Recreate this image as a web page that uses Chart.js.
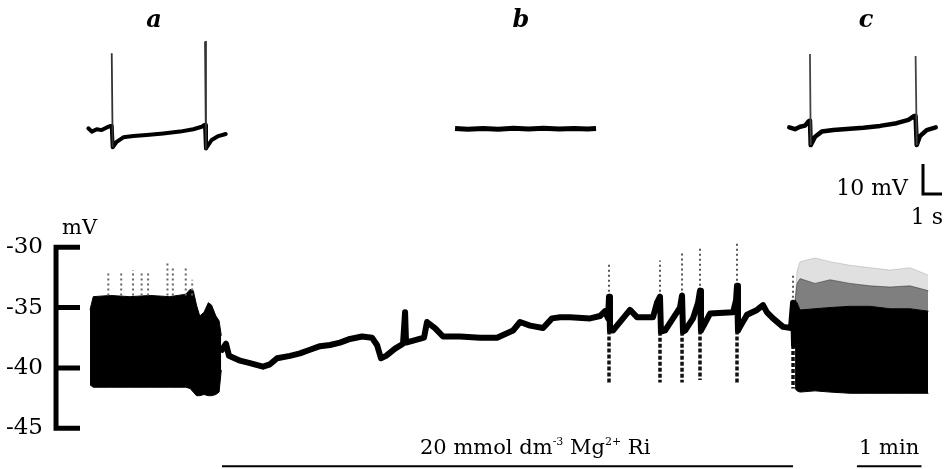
<!DOCTYPE html>
<html>
<head>
<meta charset="utf-8">
<title>Mg2+ Ri recording</title>
<script src="https://cdn.jsdelivr.net/npm/chart.js@4.4.1/dist/chart.umd.min.js"></script>
<style>
  html, body { margin: 0; padding: 0; background: #fff; }
  #fig { position: relative; width: 946px; height: 469px; overflow: hidden; font-family: "DejaVu Serif", serif; color: #000; }
  #fig canvas { position: absolute; }
  .txt { position: absolute; white-space: nowrap; line-height: 1; }
  .trace-label { font-weight: bold; font-style: italic; font-size: 24px; width: 40px; text-align: center; }
  sup { font-size: 11px; vertical-align: 9px; line-height: 0; }
</style>
</head>
<body>
<div id="fig">
  <canvas id="mainChart" width="946" height="469" style="left:0;top:0"></canvas>
  <canvas id="traceA" width="171" height="132" style="left:80px;top:32px"></canvas>
  <canvas id="traceB" width="171" height="132" style="left:445px;top:32px"></canvas>
  <canvas id="traceC" width="171" height="168" style="left:775px;top:32px"></canvas>
  <div class="txt trace-label" style="left:134px;top:7px">a</div>
  <div class="txt trace-label" style="left:501px;top:7px">b</div>
  <div class="txt trace-label" style="left:846px;top:7px">c</div>
  <div class="txt" style="right:38px;top:177px;font-size:22px">10 mV</div>
  <div class="txt" style="right:3px;top:206px;font-size:22px">1 s</div>
  <div class="txt" style="left:62px;top:217px;font-size:21px">mV</div>
  <div class="txt" style="left:420px;top:437px;font-size:21px">20 mmol dm<sup>-3</sup> Mg<sup>2+</sup> Ri</div>
  <div class="txt" style="left:859px;top:437px;font-size:21px">1 min</div>
</div>
<script>
// ---------- main record: time in s, membrane potential in mV ----------
const yTicks = [-45, -40, -35, -30];

// bursting before Mg2+ (envelope of the dense firing)
const burst1T   = [0, 3, 19, 37, 56, 74, 89, 93, 96, 99, 102, 106, 110, 113, 117, 120, 122];
const burst1Top = [-35.2, -34.1, -34.0, -34.1, -34.0, -34.1, -33.9, -33.5, -33.6, -34.8, -35.7, -35.4, -34.6, -34.8, -35.7, -36.1, -37.3];
const burst1Bot = [-41.4, -41.6, -41.6, -41.6, -41.6, -41.6, -41.6, -41.7, -42.0, -42.3, -42.3, -42.2, -42.3, -42.3, -42.2, -42.0, -40.2];
const burst1SpikeT   = [17, 29, 40, 48, 54, 72, 77, 89, 95];
const burst1SpikeTop = [-32.1, -32.1, -31.9, -32.1, -32.1, -31.1, -31.7, -31.7, -32.7];

// slow trace during Mg2+
const slowT = [122.7, 126.4, 129.2, 139.5, 148.7, 160.8, 167.3, 173.9, 185.9, 195.2, 204.5, 213.8, 223.1, 232.4, 241.7,
  252.9, 262.2, 266.8, 270.5, 275.2, 283.6, 291.0, 292.9, 293.8, 302.2, 310.5, 313.3, 320.7, 328.2, 344.0, 362.6,
  378.4, 393.3, 399.8, 409.1, 421.2, 429.5, 437.0, 446.3, 464.9, 474.2, 478.8, 481.6, 482.5, 483.4, 486.2, 495.5,
  502.0, 508.5, 523.4, 527.1, 529.9, 530.8, 534.6, 542.0, 548.5, 550.4, 551.3, 553.2, 560.6, 565.3, 567.1, 568.0,
  569.9, 576.4, 597.8, 600.6, 601.5, 602.4, 604.3, 610.8, 620.1, 625.7, 629.4, 635.0, 644.3, 651.7, 653.6, 654.5];
const slowV = [-38.5, -38.0, -39.0, -39.4, -39.6, -39.9, -39.7, -39.2, -39.0, -38.8, -38.5, -38.2, -38.1, -37.9, -37.6,
  -37.4, -37.5, -38.1, -39.2, -39.0, -38.4, -38.0, -35.4, -37.9, -37.7, -37.5, -36.2, -36.7, -37.4, -37.4, -37.5,
  -37.5, -36.9, -36.2, -36.5, -36.7, -35.9, -35.8, -35.8, -35.9, -35.7, -35.3, -35.9, -34.1, -36.9, -36.9, -35.9,
  -35.2, -35.8, -35.8, -34.6, -34.1, -37.0, -36.9, -35.9, -35.0, -34.0, -37.0, -36.9, -35.9, -34.6, -33.6, -36.9,
  -36.6, -35.5, -35.4, -34.4, -33.2, -36.9, -36.6, -35.6, -35.2, -34.8, -35.4, -35.9, -36.6, -36.7, -34.6, -38.1];
// single spikes during Mg2+: faint tip above, dotted undershoot below
const slowSpikeT      = [482.5, 529.9, 550.4, 567.1, 601.5, 653.6];
const slowSpikeSolid  = [-34.1, -34.1, -34.0, -33.6, -33.2, -34.6];
const slowSpikeTip    = [-31.3, -31.1, -30.4, -30.1, -29.7, -32.2];
const slowSpikeTrough = [-36.9, -37.0, -37.0, -36.9, -36.9, -38.1];
const slowSpikeLow    = [-41.3, -41.2, -41.2, -41.0, -41.3, -41.7];

// bursting after wash-out
const burst2T     = [655.5, 657.3, 660.1, 674.0, 688.0, 706.5, 725.1, 743.7, 762.3, 779.1];
const burst2Faint = [-34.4, -32.0, -31.2, -30.9, -31.2, -31.5, -31.7, -31.9, -31.7, -32.3];
const burst2Grey  = [-34.4, -33.0, -32.6, -33.0, -32.7, -33.0, -33.2, -33.3, -33.2, -33.6];
const burst2Top   = [-34.4, -34.6, -35.2, -35.1, -35.0, -34.9, -34.9, -35.1, -35.1, -35.3];
const burst2Bot   = [-41.7, -41.9, -42.0, -41.9, -42.0, -42.1, -42.1, -42.1, -42.1, -42.1];

// axis and bars (s / mV)
const axisT = -31.6, axisTickEnd = -9.3;
const mgT = [122.7, 653.6];
const minuteT = [713, 773];
const barV = -48.15;

// ---------- fast sweeps (s, mV relative to rest) ----------
const aT = [0.44, 0.62, 0.88, 1.14, 1.41, 1.62, 1.67, 1.72, 1.93, 2.28, 2.81, 3.51, 4.38, 5.26, 5.96, 6.41, 6.53, 6.58, 6.63, 6.93, 7.28, 7.67];
const aV = [-0.1, -1.2, -0.4, -0.7, 0.2, 0.7, 0.7, -6.4, -4.6, -3.1, -2.7, -2.3, -1.8, -1.2, -0.4, 0.4, 1.0, 1.0, -6.8, -4.0, -2.7, -2.0];
const aSpikeT = [1.67, 6.58], aSpikePeak = [24.9, 28.8], aTroughT = [1.72, 6.63], aTroughV = [-6.4, -6.8];

const bT = [0.53, 1.2, 2.0, 2.8, 3.6, 4.4, 5.2, 6.0, 6.8, 7.5, 7.95];
const bV = [-0.2, -0.4, -0.2, -0.4, -0.1, -0.3, -0.1, -0.3, -0.2, -0.3, -0.2];

const cT = [0.75, 1.05, 1.32, 1.58, 1.75, 1.84, 1.88, 2.11, 2.46, 3.07, 3.77, 4.65, 5.53, 6.40, 7.02, 7.33, 7.40, 7.46, 7.63, 7.98, 8.46];
const cV = [0.2, -0.4, 0.4, 0.8, 2.1, 2.5, -5.7, -2.9, -1.2, -0.7, -0.3, 0.1, 0.7, 1.6, 2.7, 4.0, 4.0, -5.7, -2.7, -0.7, 0.2];
const cSpikeT = [1.84, 7.40], cSpikePeak = [24.7, 24.0], cTroughT = [1.88, 7.46], cTroughV = [-5.7, -5.7];

const scaleT0 = 7.79, scaleV0 = -22, scaleMV = 10, scaleS = 1;

// ---------- helpers ----------
const pts = (xs, ys) => xs.map((x, i) => ({ x: x, y: ys[i] }));

function segments(xs, from, to, x2) {
  const out = [];
  xs.forEach((x, i) => {
    out.push({ x: x, y: from[i] });
    out.push({ x: x2 ? x2[i] : x, y: to[i] });
    out.push({ x: x, y: null });
  });
  return out;
}

function line(data, opts) {
  return Object.assign({
    data: data, borderColor: '#000', borderWidth: 1, pointRadius: 0, fill: false,
    tension: 0, spanGaps: false, borderJoinStyle: 'round', borderCapStyle: 'round'
  }, opts);
}

const baseOpts = {
  responsive: false, animation: false, events: [],
  plugins: { legend: { display: false }, tooltip: { enabled: false } }
};

// ---------- main chart ----------
const axisData = [{ x: axisTickEnd, y: yTicks[3] }, { x: axisT, y: yTicks[3] }, { x: axisT, y: yTicks[0] }, { x: axisTickEnd, y: yTicks[0] }, { x: axisT, y: null }];
yTicks.slice(1, 3).forEach(v => { axisData.push({ x: axisT, y: v }, { x: axisTickEnd, y: v }, { x: axisT, y: null }); });

new Chart(document.getElementById('mainChart'), {
  type: 'line',
  data: {
    datasets: [
      line(axisData, { borderWidth: 5, borderJoinStyle: 'miter', borderCapStyle: 'butt' }),
      line(pts(slowT, slowV), { borderWidth: 6 }),
      line(segments(slowSpikeT, slowSpikeTrough, slowSpikeLow), { borderWidth: 3.5, borderDash: [4, 2], borderCapStyle: 'butt', borderColor: '#111' }),
      line(segments(slowSpikeT, slowSpikeSolid, slowSpikeTip), { borderWidth: 2, borderDash: [2, 3], borderCapStyle: 'butt', borderColor: '#555' }),
      line(segments(burst1SpikeT, burst1SpikeT.map(() => -34), burst1SpikeTop), { borderWidth: 2, borderDash: [2, 3], borderCapStyle: 'butt', borderColor: '#666' }),
      line(pts(burst1T, burst1Top), { fill: '+1', backgroundColor: '#000' }),
      line(pts(burst1T, burst1Bot), {}),
      line(pts(burst2T, burst2Faint), { fill: '+1', backgroundColor: 'rgba(0,0,0,0.12)', borderColor: 'rgba(0,0,0,0.15)' }),
      line(pts(burst2T, burst2Grey), { fill: '+1', backgroundColor: 'rgba(0,0,0,0.5)', borderColor: 'rgba(0,0,0,0.4)' }),
      line(pts(burst2T, burst2Top), { fill: '+1', backgroundColor: '#000' }),
      line(pts(burst2T, burst2Bot), {}),
      line(pts(mgT, [barV, barV]), { borderWidth: 2, borderCapStyle: 'butt', clip: false }),
      line(pts(minuteT, [barV, barV]), { borderWidth: 2, borderCapStyle: 'butt', clip: false })
    ]
  },
  options: Object.assign({}, baseOpts, {
    layout: { padding: { top: 223, bottom: 25, left: 0, right: 0 } },
    scales: {
      x: { type: 'linear', display: false, min: -37.2, max: 795.8 },
      y: {
        type: 'linear', min: -46.3, max: -28,
        grid: { display: false, drawTicks: false },
        border: { display: false },
        afterFit: s => { s.width = 50; },
        afterBuildTicks: s => { s.ticks = yTicks.map(v => ({ value: v })); },
        ticks: { color: '#000', padding: 7, font: { family: 'DejaVu Serif', size: 23 }, callback: v => String(v) }
      }
    }
  })
});

// ---------- inset sweeps ----------
function insetChart(id, xMax, yMin, yMax, datasets) {
  return new Chart(document.getElementById(id), {
    type: 'line',
    data: { datasets: datasets },
    options: Object.assign({}, baseOpts, {
      layout: { padding: 0 },
      scales: {
        x: { type: 'linear', display: false, min: 0, max: xMax },
        y: { type: 'linear', display: false, min: yMin, max: yMax }
      }
    })
  });
}

insetChart('traceA', 9, -12, 32, [
  line(segments(aSpikeT, aSpikePeak, aTroughV, aTroughT), { borderWidth: 1.8, borderColor: '#333', borderCapStyle: 'butt' }),
  line(pts(aT, aV), { borderWidth: 4 })
]);

insetChart('traceB', 9, -12, 32, [
  line(pts(bT, bV), { borderWidth: 5, borderCapStyle: 'butt' })
]);

insetChart('traceC', 9, -24, 32, [
  line(segments(cSpikeT, cSpikePeak, cTroughV, cTroughT), { borderWidth: 1.8, borderColor: '#444', borderCapStyle: 'butt' }),
  line(pts(cT, cV), { borderWidth: 4.5 }),
  line([{ x: scaleT0, y: scaleV0 + scaleMV }, { x: scaleT0, y: scaleV0 }, { x: scaleT0 + scaleS, y: scaleV0 }],
       { borderWidth: 3, borderJoinStyle: 'miter', borderCapStyle: 'butt' })
]);
</script>
</body>
</html>
